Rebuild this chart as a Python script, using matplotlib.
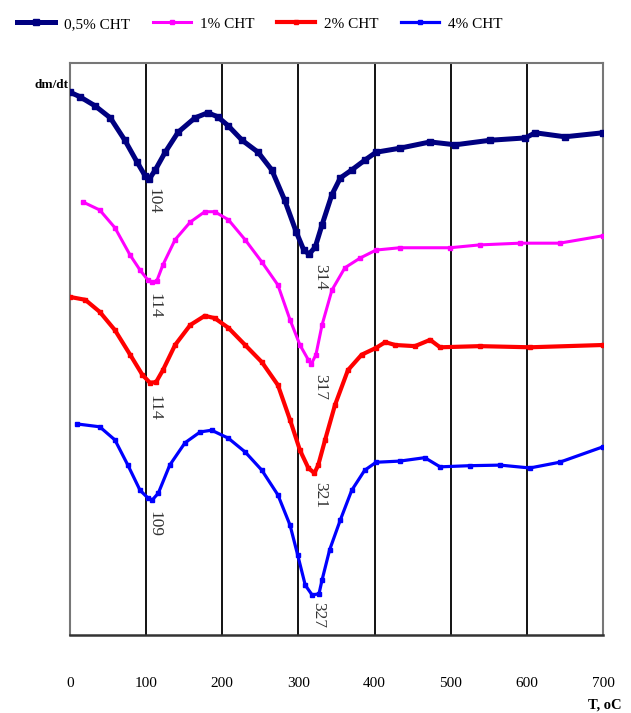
import matplotlib
matplotlib.use("Agg")
import matplotlib.pyplot as plt

plt.rcParams['font.family'] = ['Liberation Serif', 'DejaVu Serif']

# ---- data (temperature in °C, dm/dt in arbitrary offset units) ----
t_05 = [0, 13, 33, 53, 72, 88, 99, 104, 112, 125, 142, 164, 181, 194, 208, 226, 247, 265, 282, 297, 307, 314, 322, 331, 344, 355, 370, 387, 402, 433, 473, 506, 552, 598, 611, 650, 700]
y_05 = [94.9, 94.1, 92.5, 90.4, 86.5, 82.7, 80.2, 79.7, 81.3, 84.4, 87.9, 90.4, 91.3, 90.6, 89.0, 86.5, 84.4, 81.3, 76.0, 70.5, 67.3, 66.6, 67.8, 71.7, 77.0, 79.9, 81.3, 83.0, 84.4, 85.1, 86.2, 85.7, 86.5, 86.9, 87.8, 87.1, 87.8]

t_1 = [17, 39, 59, 79, 92, 102, 108, 114, 122, 138, 158, 177, 190, 208, 230, 252, 273, 289, 302, 313, 317, 323, 331, 344, 361, 381, 402, 433, 499, 538, 591, 643, 700]
y_1 = [75.7, 74.3, 71.2, 66.4, 63.8, 62.1, 61.7, 61.9, 64.7, 69.1, 72.2, 74.0, 74.0, 72.6, 69.1, 65.2, 61.2, 55.1, 50.7, 48.1, 47.4, 49.0, 54.2, 60.3, 64.2, 65.9, 67.3, 67.7, 67.7, 68.2, 68.5, 68.5, 69.8]

t_2 = [0, 20, 39, 59, 79, 95, 105, 113, 122, 138, 158, 177, 190, 208, 230, 252, 273, 289, 302, 313, 321, 326, 335, 348, 365, 383, 402, 414, 427, 453, 473, 486, 538, 604, 700]
y_2 = [59.1, 58.6, 56.5, 53.3, 49.0, 45.5, 44.1, 44.2, 46.3, 50.7, 54.2, 55.8, 55.4, 53.7, 50.7, 47.7, 43.7, 37.6, 32.3, 29.2, 28.3, 29.7, 34.1, 40.2, 46.3, 49.0, 50.2, 51.2, 50.7, 50.5, 51.6, 50.3, 50.5, 50.3, 50.7]

t_4 = [9, 39, 59, 76, 92, 102, 108, 116, 131, 151, 171, 186, 208, 230, 252, 273, 289, 299, 309, 318, 327, 331, 341, 355, 370, 387, 402, 433, 466, 486, 525, 565, 604, 643, 700]
y_4 = [36.9, 36.4, 34.1, 29.7, 25.3, 24.0, 23.6, 24.8, 29.7, 33.6, 35.5, 35.8, 34.4, 32.0, 28.8, 24.5, 19.2, 14.0, 8.7, 7.0, 7.2, 9.6, 14.9, 20.1, 25.3, 28.8, 30.2, 30.4, 31.0, 29.4, 29.6, 29.7, 29.2, 30.2, 32.9]

labels = ['0,5% CHT', '1% CHT', '2% CHT', '4% CHT']
colors = ['#000080', '#FF00FF', '#FF0000', '#0000FF']

# peak annotations: (text, T, y)
peak_text = ['104', '314', '114', '317', '114', '321', '109', '327']
peak_t = [109, 328, 111, 328, 111, 328, 111, 326]
peak_y = [78.2, 64.8, 59.8, 45.7, 42.0, 26.8, 21.6, 5.8]

xticks = [0, 100, 200, 300, 400, 500, 600, 700]

fig = plt.figure(figsize=(6.31, 7.13), dpi=100)
ax = fig.add_axes([70/631, 78/713, 533/631, 572/713])

series = [(t_05, y_05), (t_1, y_1), (t_2, y_2), (t_4, y_4)]
widths = [3.6, 2.2, 3.0, 2.3]
for (t, y), c, lab, lw in zip(series, colors, labels, widths):
    ax.plot(t, y, color=c, lw=lw, marker='s', ms=lw * 1.05, mec=c, mfc=c,
            label=lab, zorder=3, solid_joinstyle='round')

for x in xticks[1:-1]:
    ax.axvline(x, color='black', lw=1.3, zorder=1)

for s, tx, ty in zip(peak_text, peak_t, peak_y):
    ax.text(tx, ty, s, rotation=270, ha='center', va='top', fontsize=12.5, color='#333333')

ax.set_xlim(0, 700)
ax.set_ylim(0, 100)
ax.set_xticks(xticks)
ax.set_xticklabels([str(v) for v in xticks], fontsize=11)
ax.set_yticks([])
ax.tick_params(axis='x', length=0, pad=30)
for side in ['left', 'right', 'top']:
    ax.spines[side].set_color('#777777')
    ax.spines[side].set_linewidth(1.5)
ax.spines['bottom'].set_color('#333333')
ax.spines['bottom'].set_linewidth(1.8)

fig.text(51/631, 1 - 85/713, 'dm/dt', fontsize=9.5, fontweight='bold', ha='center', va='center')
fig.text(605/631, 1 - 705/713, 'T, oC', fontsize=10.5, fontweight='bold', ha='center', va='center')

fig.legend(loc='center left', bbox_to_anchor=(17/631, 1 - 24/713), ncol=4, frameon=False,
           fontsize=11, handlelength=2.5, handletextpad=0.6, columnspacing=1.45,
           borderpad=0, borderaxespad=0)

fig.savefig('out.png', dpi=100)
